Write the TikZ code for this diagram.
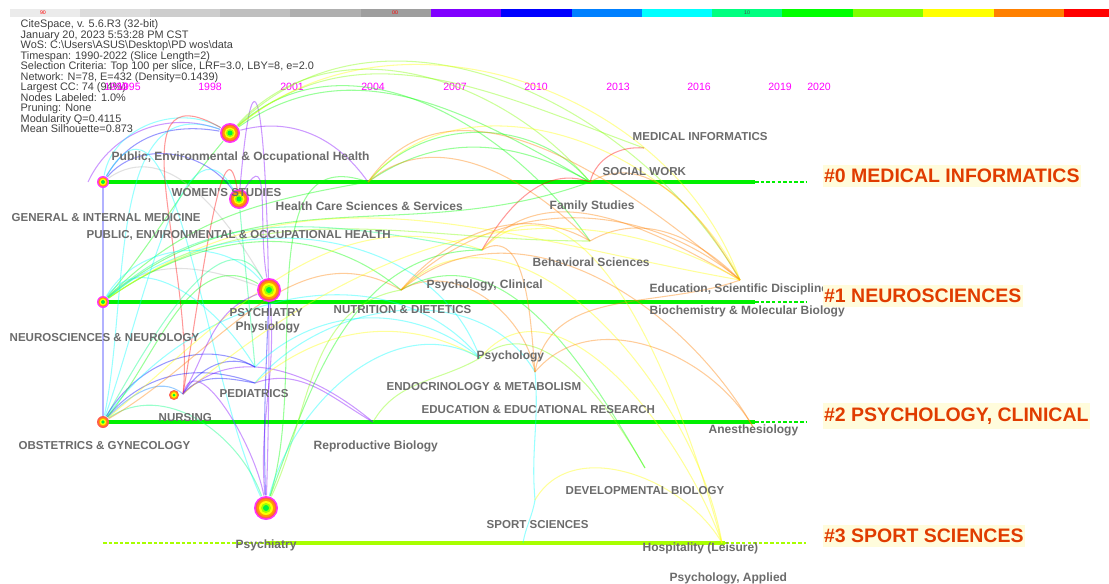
\documentclass[tikz,border=0pt]{standalone}
\usepackage{fontspec}
\setmainfont{Liberation Sans}
\definecolor{BarGrayA}{HTML}{EBEBEB}
\definecolor{BarGrayB}{HTML}{DCDCDC}
\definecolor{BarGrayC}{HTML}{CDCDCD}
\definecolor{BarGrayD}{HTML}{BFBFBF}
\definecolor{BarGrayE}{HTML}{AFAFAF}
\definecolor{BarGrayF}{HTML}{9E9E9E}
\definecolor{YrGray}{HTML}{B4B4B4}
\definecolor{YrPurple}{HTML}{8000FF}
\definecolor{YrBlue}{HTML}{0000FF}
\definecolor{YrAzure}{HTML}{0080FF}
\definecolor{YrCyan}{HTML}{00FFFF}
\definecolor{YrSpring}{HTML}{00FF80}
\definecolor{YrGreen}{HTML}{00FF00}
\definecolor{YrLime}{HTML}{80FF00}
\definecolor{YrYellow}{HTML}{FFFF00}
\definecolor{YrOrange}{HTML}{FF8000}
\definecolor{YrRed}{HTML}{FF0000}
\definecolor{RowGreen}{HTML}{00F000}
\definecolor{RowLime}{HTML}{A8FF00}
\definecolor{LabelGray}{HTML}{6C6C6C}
\definecolor{InfoGray}{HTML}{404040}
\definecolor{YearMagenta}{HTML}{FF00FF}
\definecolor{ClusterRed}{HTML}{E03C00}
\definecolor{ClusterBg}{HTML}{FFFCDC}
\definecolor{RingMagenta}{HTML}{FF30FF}
\definecolor{RingRed}{HTML}{FF5A50}
\definecolor{RingOrange}{HTML}{FF9A00}
\definecolor{RingYellow}{HTML}{FFFF00}
\definecolor{RingLime}{HTML}{A0FF00}
\definecolor{RingGreen}{HTML}{00F040}
\tikzset{
  lbl/.style={
    font=\fontsize{3.28}{3.8}\selectfont\bfseries,
    text=LabelGray,inner sep=0pt,anchor=west
  },
  lbllow/.style={
    lbl,font=\fontsize{3.42}{3.9}\selectfont\bfseries
  },
  clus/.style={
    font=\fontsize{5.55}{6.5}\selectfont\bfseries,
    text=ClusterRed,fill=ClusterBg,
    inner xsep=0.4pt,inner ysep=1.3pt,anchor=west
  },
  yr/.style={font=\fontsize{3.0}{3.5}\selectfont,text=YearMagenta,inner sep=0pt},
  info/.style={
    font=\fontsize{3.1}{2.99}\selectfont,
    text=InfoGray,align=left,inner sep=0pt,anchor=north west
  },
  tick/.style={font=\fontsize{1.5}{1.8}\selectfont,inner sep=0pt},
  hub/.style={circle,inner sep=0pt},
  edge/.style={line width=0.3pt,opacity=0.4},
  rowline/.style={line width=0.9pt,draw=RowGreen},
  rowtail/.style={line width=0.3pt,draw=RowGreen,dash pattern=on 1pt off 0.6pt},
}

\begin{document}
\begin{tikzpicture}
  \useasboundingbox[fill=white] (0,0) rectangle (11.09,-5.83);
  % colour bar
  \fill[BarGrayA] (0.10,-0.09) rectangle (0.80,-0.17);
  \fill[BarGrayB] (0.80,-0.09) rectangle (1.50,-0.17);
  \fill[BarGrayC] (1.50,-0.09) rectangle (2.20,-0.17);
  \fill[BarGrayD] (2.20,-0.09) rectangle (2.90,-0.17);
  \fill[BarGrayE] (2.90,-0.09) rectangle (3.61,-0.17);
  \fill[BarGrayF] (3.61,-0.09) rectangle (4.31,-0.17);
  \fill[YrPurple] (4.31,-0.09) rectangle (5.01,-0.17);
  \fill[YrBlue]   (5.01,-0.09) rectangle (5.72,-0.17);
  \fill[YrAzure]  (5.72,-0.09) rectangle (6.42,-0.17);
  \fill[YrCyan]   (6.42,-0.09) rectangle (7.12,-0.17);
  \fill[YrSpring] (7.12,-0.09) rectangle (7.82,-0.17);
  \fill[YrGreen]  (7.82,-0.09) rectangle (8.53,-0.17);
  \fill[YrLime]   (8.53,-0.09) rectangle (9.23,-0.17);
  \fill[YrYellow] (9.23,-0.09) rectangle (9.94,-0.17);
  \fill[YrOrange] (9.94,-0.09) rectangle (10.64,-0.17);
  \fill[YrRed]    (10.64,-0.09) rectangle (11.09,-0.17);
  \node[tick,text=YrRed] (t90) at (0.43,-0.125) {90};
  \node[tick,text=YrRed] (t00) at (3.95,-0.125) {00};
  \node[tick,text=black!70] (t10) at (7.47,-0.125) {10};

  % run information
  \node[info] (info) at (0.20,-0.19) {CiteSpace, v. 5.6.R3 (32-bit)\\
    January 20, 2023 5:53:28 PM CST\\
    WoS: C:\textbackslash Users\textbackslash ASUS\textbackslash Desktop\textbackslash PD wos\textbackslash data\\
    Timespan: 1990-2022 (Slice Length=2)\\
    Selection Criteria: Top 100 per slice, LRF=3.0, LBY=8, e=2.0\\
    Network: N=78, E=432 (Density=0.1439)\\
    Largest CC: 74 (94\%)\\
    Nodes Labeled: 1.0\%\\
    Pruning: None\\
    Modularity Q=0.4115\\
    Mean Silhouette=0.873};

  % years
  \node[yr] (y1990) at (1.16,-0.87) {1990};
  \node[yr] (y1995) at (1.29,-0.87) {1995};
  \node[yr] (y1998) at (2.10,-0.87) {1998};
  \node[yr] (y2001) at (2.92,-0.87) {2001};
  \node[yr] (y2004) at (3.73,-0.87) {2004};
  \node[yr] (y2007) at (4.55,-0.87) {2007};
  \node[yr] (y2010) at (5.36,-0.87) {2010};
  \node[yr] (y2013) at (6.18,-0.87) {2013};
  \node[yr] (y2016) at (6.99,-0.87) {2016};
  \node[yr] (y2019) at (7.80,-0.87) {2019};
  \node[yr] (y2020) at (8.19,-0.87) {2020};

  % nodes and junctions
  \node[hub,minimum size=0.20cm] (pub) at (2.30,-1.33) {};
  \node[hub,minimum size=0.20cm] (wom) at (2.39,-1.99) {};
  \node[hub,minimum size=0.24cm] (psy) at (2.69,-2.90) {};
  \node[hub,minimum size=0.12cm] (gen) at (1.03,-1.82) {};
  \node[hub,minimum size=0.12cm] (neu) at (1.03,-3.02) {};
  \node[hub,minimum size=0.10cm] (nur) at (1.74,-3.95) {};
  \node[hub,minimum size=0.12cm] (obs) at (1.03,-4.22) {};
  \node[hub,minimum size=0.24cm] (psyc) at (2.66,-5.08) {};
  \coordinate (q0) at (0.88,-1.82);
  \coordinate (h0) at (3.68,-1.82);
  \coordinate (s0) at (5.90,-1.82);
  \coordinate (m0) at (6.44,-1.48);
  \coordinate (fs) at (5.90,-2.41);
  \coordinate (bs) at (4.82,-2.50);
  \coordinate (pc) at (4.01,-2.90);
  \coordinate (ed) at (7.40,-2.80);
  \coordinate (py1) at (4.80,-3.58);
  \coordinate (py2) at (5.35,-3.72);
  \coordinate (pe1) at (2.55,-3.67);
  \coordinate (pe2) at (2.55,-3.83);
  \coordinate (nj) at (1.83,-3.94);
  \coordinate (rb) at (3.73,-4.22);
  \coordinate (an) at (7.53,-4.27);
  \coordinate (dv) at (6.45,-4.68);
  \coordinate (sp) at (5.35,-5.00);
  \coordinate (r3) at (5.23,-5.43);
  \coordinate (hl) at (7.22,-5.43);
  \coordinate (e0) at (7.55,-1.82);
  \coordinate (x0) at (8.06,-1.82);
  \coordinate (e1) at (7.55,-3.02);
  \coordinate (x1) at (8.06,-3.02);
  \coordinate (e2) at (7.55,-4.22);
  \coordinate (x2) at (8.06,-4.22);
  \coordinate (b3) at (1.03,-5.43);
  \coordinate (m3) at (2.66,-5.43);
  \coordinate (e3) at (7.25,-5.43);
  \coordinate (x3) at (8.06,-5.43);

  % timelines
  \draw[rowline] (gen.center) -- (e0);
  \draw[rowtail] (e0) -- (x0);
  \draw[rowline] (neu.center) -- (e1);
  \draw[rowtail] (e1) -- (x1);
  \draw[rowline] (obs.center) -- (e2);
  \draw[rowtail] (e2) -- (x2);
  \draw[rowtail,draw=RowLime] (b3) -- (m3);
  \draw[rowline,draw=RowLime] (m3) -- (e3);
  \draw[rowtail,draw=RowLime] (e3) -- (x3);

  % co-occurrence arcs
  \draw[edge,YrBlue,opacity=0.3] (gen.center) -- (obs.center);
  \draw[edge,YrPurple] (q0) to[out=65,in=160] (pub);
  \draw[edge,YrBlue] (gen) to[out=60,in=170] (pub);
  \draw[edge,YrCyan] (gen) to[out=80,in=150] (pub);
  \draw[edge,YrBlue] (gen) to[out=50,in=125] (wom);
  \draw[edge,YrPurple] (pub) to[out=15,in=125] (h0);
  \draw[edge,YrGray] (gen) to[out=35,in=120] (psy);
  \draw[edge,YrGray] (neu) to[out=45,in=160] (psy);
  \draw[edge,YrCyan] (gen) to[out=60,in=115] (psyc);
  \draw[edge,YrRed] (nj) to[out=84,in=150,looseness=1.2] (pub);
  \draw[edge,YrRed] (nj) to[out=80,in=100] (wom);
  \draw[edge,YrPurple] (psyc) to[out=88,in=85,looseness=2] (wom);
  \draw[edge,YrPurple] (psy) to[out=100,in=60,looseness=1.5] (wom);
  \draw[edge,YrSpring] (wom) to[out=-85,in=95] (pe1);
  \draw[edge,YrBlue] (psyc) to[out=92,in=-92] (psy);
  \draw[edge,YrPurple] (psyc) to[out=95,in=-85] (psy);
  \draw[edge,YrGreen] (pub) to[out=35,in=150] (s0);
  \draw[edge,YrLime] (pub) to[out=40,in=160] (m0);
  \draw[edge,YrLime] (pub) to[out=48,in=130] (s0);
  \draw[edge,YrGreen] (pub) to[out=42,in=125] (fs);
  \draw[edge,YrLime] (pub) to[out=45,in=120] (ed);
  \draw[edge,YrYellow] (pub) to[out=40,in=110] (ed);
  \draw[edge,YrGreen] (h0) to[out=50,in=130] (s0);
  \draw[edge,YrGreen] (h0) to[out=35,in=150] (s0);
  \draw[edge,YrYellow] (h0) to[out=50,in=115] (ed);
  \draw[edge,YrOrange] (h0) to[out=55,in=140] (ed);
  \draw[edge,YrOrange] (h0) to[out=40,in=135] (fs);
  \draw[edge,YrRed] (bs) to[out=60,in=160] (s0);
  \draw[edge,YrRed] (s0) to[out=75,in=175] (m0);
  \draw[edge,YrOrange] (pc) to[out=50,in=150] (fs);
  \draw[edge,YrOrange] (s0) to[out=30,in=120] (ed);
  \draw[edge,YrOrange] (fs) to[out=30,in=135] (ed);
  \draw[edge,YrOrange] (pc) to[out=45,in=140] (ed);
  \draw[edge,YrOrange] (bs) to[out=50,in=150] (ed);
  \draw[edge,YrGreen] (neu) to[out=45,in=190] (h0);
  \draw[edge,YrGreen] (neu) to[out=40,in=200] (s0);
  \draw[edge,YrLime] (neu) to[out=35,in=180] (fs);
  \draw[edge,YrGreen] (neu) to[out=50,in=230] (pub);
  \draw[edge,YrSpring] (neu) to[out=42,in=170] (bs);
  \draw[edge,YrCyan] (neu) to[out=60,in=130] (psy);
  \draw[edge,YrCyan] (neu) to[out=55,in=120] (pe1);
  \draw[edge,YrCyan] (neu) to[out=40,in=110] (py1);
  \draw[edge,YrGreen] (neu) to[out=35,in=140] (pc);
  \draw[edge,YrYellow] (neu) to[out=35,in=170] (ed);
  \draw[edge,YrCyan] (obs) to[out=78,in=160] (pub);
  \draw[edge,YrCyan] (obs) to[out=70,in=120] (wom);
  \draw[edge,YrSpring] (obs) to[out=60,in=120] (psy);
  \draw[edge,YrBlue] (obs) to[out=60,in=150] (pe1);
  \draw[edge,YrBlue] (obs) to[out=50,in=160] (pe2);
  \draw[edge,YrAzure] (obs) to[out=45,in=140] (nj);
  \draw[edge,YrSpring] (obs) to[out=35,in=110] (psyc);
  \draw[edge,YrOrange] (obs) to[out=30,in=150] (pc);
  \draw[edge,YrCyan] (obs) to[out=55,in=130] (py1);
  \draw[edge,YrGreen] (obs) to[out=50,in=150] (psy);
  \draw[edge,YrYellow] (obs) to[out=40,in=160] (bs);
  \draw[edge,YrBlue] (nj) to[out=60,in=150] (pe1);
  \draw[edge,YrBlue] (nj) to[out=50,in=170] (pe2);
  \draw[edge,YrPurple] (nj) to[out=45,in=140] (rb);
  \draw[edge,YrPurple] (nj) to[out=75,in=100] (psyc);
  \draw[edge,YrPurple] (nj) to[out=60,in=200] (psy);
  \draw[edge,YrYellow] (nj) to[out=40,in=150] (ed);
  \draw[edge,YrYellow] (pe2) to[out=40,in=150] (py1);
  \draw[edge,YrCyan] (pe1) to[out=45,in=140] (py1);
  \draw[edge,YrCyan] (pe2) to[out=50,in=120] (py2);
  \draw[edge,YrPurple] (pe2) to[out=20,in=150] (rb);
  \draw[edge,YrGreen] (psyc) to[out=70,in=180] (bs);
  \draw[edge,YrLime] (psyc) to[out=65,in=190] (pc);
  \draw[edge,YrGreen] (psyc) to[out=72,in=160] (h0);
  \draw[edge,YrCyan] (psyc) to[out=75,in=150] (py1);
  \draw[edge,YrLime] (rb) to[out=60,in=210] (py1);
  \draw[edge,YrLime] (py1) to[out=40,in=120] (dv);
  \draw[edge,YrGreen] (pc) to[out=30,in=120] (dv);
  \draw[edge,YrCyan] (py2) to[out=-85,in=95] (sp);
  \draw[edge,YrCyan] (sp) to[out=-100,in=80] (r3);
  \draw[edge,YrYellow] (sp) to[out=60,in=120] (hl);
  \draw[edge,YrYellow] (pc) to[out=45,in=100] (hl);
  \draw[edge,YrYellow] (bs) to[out=45,in=105] (hl);
  \draw[edge,YrYellow] (py1) to[out=50,in=110] (hl);
  \draw[edge,YrOrange] (py2) to[out=50,in=120] (an);
  \draw[edge,YrOrange] (bs) to[out=30,in=95] (py2);
  \draw[edge,YrOrange] (pc) to[out=30,in=100] (py2);
  \draw[edge,YrOrange] (py2) to[out=80,in=200] (ed);
  \draw[edge,YrOrange] (pc) to[out=40,in=120] (an);

  % rings
  \fill[RingMagenta] (pub) circle (0.10);
  \fill[RingRed] (pub) circle (0.085);
  \fill[RingOrange] (pub) circle (0.072);
  \fill[RingYellow] (pub) circle (0.055);
  \fill[RingLime] (pub) circle (0.04);
  \fill[RingGreen] (pub) circle (0.025);
  \fill[RingMagenta] (wom) circle (0.10);
  \fill[RingRed] (wom) circle (0.085);
  \fill[RingOrange] (wom) circle (0.072);
  \fill[RingYellow] (wom) circle (0.055);
  \fill[RingLime] (wom) circle (0.04);
  \fill[RingGreen] (wom) circle (0.025);
  \fill[RingMagenta] (psy) circle (0.12);
  \fill[RingRed] (psy) circle (0.105);
  \fill[RingOrange] (psy) circle (0.09);
  \fill[RingYellow] (psy) circle (0.07);
  \fill[RingLime] (psy) circle (0.05);
  \fill[RingGreen] (psy) circle (0.03);
  \fill[RingMagenta] (psyc) circle (0.12);
  \fill[RingRed] (psyc) circle (0.105);
  \fill[RingOrange] (psyc) circle (0.09);
  \fill[RingYellow] (psyc) circle (0.07);
  \fill[RingLime] (psyc) circle (0.05);
  \fill[RingGreen] (psyc) circle (0.03);
  \fill[RingMagenta] (gen) circle (0.06);
  \fill[RingOrange] (gen) circle (0.047);
  \fill[RingYellow] (gen) circle (0.034);
  \fill[RingGreen] (gen) circle (0.02);
  \fill[RingMagenta] (neu) circle (0.06);
  \fill[RingOrange] (neu) circle (0.047);
  \fill[RingYellow] (neu) circle (0.034);
  \fill[RingGreen] (neu) circle (0.02);
  \fill[RingRed] (obs) circle (0.06);
  \fill[RingOrange] (obs) circle (0.045);
  \fill[RingYellow] (obs) circle (0.032);
  \fill[RingGreen] (obs) circle (0.018);
  \fill[RingRed] (nur) circle (0.05);
  \fill[RingOrange] (nur) circle (0.04);
  \fill[RingYellow] (nur) circle (0.028);
  \fill[RingGreen] (nur) circle (0.015);

  % labels
  \node[lbl] (lmi) at (6.32,-1.37) {MEDICAL INFORMATICS};
  \node[lbllow] (lpe) at (1.11,-1.57) {Public, Environmental \& Occupational Health};
  \node[lbl] (lsw) at (6.02,-1.72) {SOCIAL WORK};
  \node[lbl] (lws) at (1.71,-1.93) {WOMEN'S STUDIES};
  \node[lbllow] (lhc) at (2.75,-2.06) {Health Care Sciences \& Services};
  \node[lbllow] (lfs) at (5.49,-2.06) {Family Studies};
  \node[lbl] (lgi) at (0.11,-2.18) {GENERAL \& INTERNAL MEDICINE};
  \node[lbl] (lpu) at (0.86,-2.35) {PUBLIC, ENVIRONMENTAL \& OCCUPATIONAL HEALTH};
  \node[lbllow] (lbs) at (5.32,-2.62) {Behavioral Sciences};
  \node[lbllow] (lpc) at (4.26,-2.85) {Psychology, Clinical};
  \node[lbllow] (les) at (6.49,-2.89) {Education, Scientific Disciplines};
  \node[lbl] (lps) at (2.29,-3.13) {PSYCHIATRY};
  \node[lbl] (lnd) at (3.33,-3.10) {NUTRITION \& DIETETICS};
  \node[lbllow] (lbm) at (6.49,-3.11) {Biochemistry \& Molecular Biology};
  \node[lbllow] (lph) at (2.35,-3.27) {Physiology};
  \node[lbl] (lnn) at (0.09,-3.38) {NEUROSCIENCES \& NEUROLOGY};
  \node[lbllow] (lpy) at (4.76,-3.56) {Psychology};
  \node[lbl] (lem) at (3.86,-3.87) {ENDOCRINOLOGY \& METABOLISM};
  \node[lbl] (lpd) at (2.19,-3.94) {PEDIATRICS};
  \node[lbl] (lee) at (4.21,-4.10) {EDUCATION \& EDUCATIONAL RESEARCH};
  \node[lbl] (lnr) at (1.58,-4.18) {NURSING};
  \node[lbllow] (lan) at (7.08,-4.30) {Anesthesiology};
  \node[lbl] (log) at (0.18,-4.46) {OBSTETRICS \& GYNECOLOGY};
  \node[lbllow] (lrb) at (3.13,-4.46) {Reproductive Biology};
  \node[lbl] (ldb) at (5.65,-4.91) {DEVELOPMENTAL BIOLOGY};
  \node[lbl] (lss) at (4.86,-5.25) {SPORT SCIENCES};
  \node[lbllow] (lpsy) at (2.35,-5.45) {Psychiatry};
  \node[lbllow] (lhl) at (6.42,-5.48) {Hospitality (Leisure)};
  \node[lbllow] (lpa) at (6.69,-5.78) {Psychology, Applied};

  % cluster labels
  \node[clus] (c0) at (8.22,-1.76) {\#0 MEDICAL INFORMATICS};
  \node[clus] (c1) at (8.22,-2.96) {\#1 NEUROSCIENCES};
  \node[clus] (c2) at (8.22,-4.16) {\#2 PSYCHOLOGY, CLINICAL};
  \node[clus] (c3) at (8.22,-5.36) {\#3 SPORT SCIENCES};
\end{tikzpicture}
\end{document}
